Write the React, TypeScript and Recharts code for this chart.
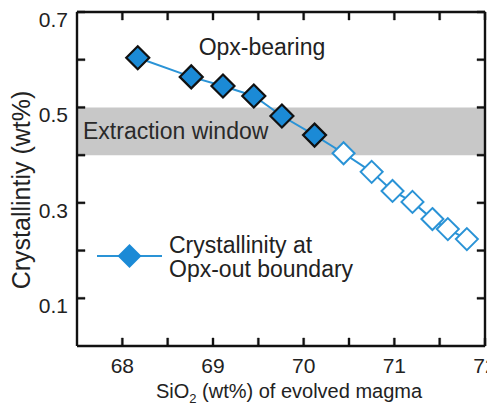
import { LineChart, Line, XAxis, YAxis, ReferenceArea, ReferenceDot, ReferenceLine, Legend } from 'recharts'

const sio2 = [68.17, 68.76, 69.11, 69.45, 69.76, 70.12, 70.44, 70.75, 70.98, 71.2, 71.42, 71.59, 71.8]
const crystallinity = [0.604, 0.564, 0.545, 0.524, 0.482, 0.442, 0.404, 0.365, 0.325, 0.302, 0.266, 0.245, 0.224]
const opxBearing = [true, true, true, true, true, true, false, false, false, false, false, false, false]

const xTicks = [68, 68.5, 69, 69.5, 70, 70.5, 71, 71.5, 72]
const yTicks = [0.1, 0.2, 0.3, 0.4, 0.5, 0.6, 0.7]
const xLabels = [68, 69, 70, 71, 72]
const yLabels = [0.1, 0.3, 0.5, 0.7]

const data = sio2.map((x, i) => ({ x, y: crystallinity[i], opx: opxBearing[i] }))

const FONT = 'Liberation Sans, Arial, sans-serif'
const BLUE = '#1b8ad6'
const LINE_BLUE = '#2a93d6'
const TEXT = '#222'
const INK = '#111'
const TICK = 8

// chart layout
const W = 487
const H = 402
const MARGIN = { top: 4, right: 10, bottom: 0, left: 0 }
const Y_AXIS_W = 69
const X_AXIS_H = 64
const PLOT_W = W - MARGIN.right - Y_AXIS_W
const PLOT_H = H - MARGIN.top - X_AXIS_H

function diamond(cx: number, cy: number, r: number) {
  return `${cx},${cy - r} ${cx + r},${cy} ${cx},${cy + r} ${cx - r},${cy}`
}

// inward stubs on the bottom edge and mirrored on the top edge, labels under the bottom ones
function BottomTick({ x, y, payload }: any) {
  const v = payload.value
  const top = y - PLOT_H
  return (
    <g>
      <polygon points={`${x - 1},${y} ${x + 1},${y} ${x + 1},${y - TICK} ${x - 1},${y - TICK}`} fill={INK} stroke={INK} strokeWidth={0.4} />
      <polygon points={`${x - 1},${top} ${x + 1},${top} ${x + 1},${top + TICK} ${x - 1},${top + TICK}`} fill={INK} stroke={INK} strokeWidth={0.4} />
      {xLabels.includes(v) && (
        <text x={x} y={y + 27} textAnchor="middle" fontSize={21} fontFamily={FONT} fill={TEXT}>{v}</text>
      )}
    </g>
  )
}

function LeftTick({ x, y, payload }: any) {
  const v = payload.value
  const right = x + PLOT_W
  const labelled = yLabels.some(l => Math.abs(l - v) < 1e-6)
  return (
    <g>
      <polygon points={`${x},${y - 1} ${x + TICK},${y - 1} ${x + TICK},${y + 1} ${x},${y + 1}`} fill={INK} stroke={INK} strokeWidth={0.4} />
      <polygon points={`${right},${y - 1} ${right - TICK},${y - 1} ${right - TICK},${y + 1} ${right},${y + 1}`} fill={INK} stroke={INK} strokeWidth={0.4} />
      {labelled && (
        <text x={x - 9} y={y + 15} textAnchor="end" fontSize={21} fontFamily={FONT} fill={TEXT}>{v.toFixed(1)}</text>
      )}
    </g>
  )
}

function Marker({ cx, cy, payload }: any) {
  if (cx == null || cy == null) return null
  return payload.opx
    ? <polygon key={`m${cx}`} points={diamond(cx, cy, 11.5)} fill={BLUE} stroke={INK} strokeWidth={2.2} />
    : <polygon key={`m${cx}`} points={diamond(cx, cy, 11)} fill="#fff" stroke={LINE_BLUE} strokeWidth={2} />
}

// legend box plus the two axis titles, laid over the chart
function Overlay() {
  const yx = 22
  const yy = 182
  return (
    <svg width={W} height={H} style={{ overflow: 'visible' }}>
      <line x1={89} x2={154} y1={248} y2={248} stroke={LINE_BLUE} strokeWidth={2.2} />
      <polygon points={diamond(121.5, 248, 12)} fill={BLUE} />
      <text x={161} y={245} fontSize={23} fontFamily={FONT} fill={TEXT}>Crystallinity at</text>
      <text x={161} y={269} fontSize={23} fontFamily={FONT} fill={TEXT}>Opx-out boundary</text>
      <text x={yx} y={yy} transform={`rotate(-90 ${yx} ${yy})`} textAnchor="middle" fontSize={25} fontFamily={FONT} fill={TEXT}>
        Crystallintiy (wt%)
      </text>
      <text x={281} y={390} textAnchor="middle" fontSize={20} fontFamily={FONT} fill={TEXT}>
        <tspan>SiO</tspan>
        <tspan fontSize={13} dy={5}>2</tspan>
        <tspan dy={-5}> (wt%) of evolved magma</tspan>
      </text>
    </svg>
  )
}

export default function App() {
  return (
    <div style={{ width: W, height: H }}>
      <LineChart width={W} height={H} data={data} margin={MARGIN}>
        <ReferenceArea xAxisId="b" yAxisId="l" x1={67.5} x2={72} y1={0.4} y2={0.5} fill="#c8c8c8" fillOpacity={1} stroke="none" />
        <ReferenceLine xAxisId="b" yAxisId="l" y={0.7} stroke={INK} strokeWidth={2.4} />
        <ReferenceLine xAxisId="b" yAxisId="l" x={72} stroke={INK} strokeWidth={2.4} />
        <XAxis
          xAxisId="b"
          dataKey="x"
          type="number"
          domain={[67.5, 72]}
          ticks={xTicks}
          allowDataOverflow
          height={X_AXIS_H}
          stroke={INK}
          strokeWidth={2.4}
          tickLine={false}
          tickSize={0}
          tickMargin={0}
          tick={<BottomTick />}
          interval={0}
        />
        <YAxis
          yAxisId="l"
          type="number"
          domain={[0, 0.7]}
          ticks={yTicks}
          allowDataOverflow
          width={Y_AXIS_W}
          stroke={INK}
          strokeWidth={2.4}
          tickLine={false}
          tickSize={0}
          tickMargin={0}
          tick={<LeftTick />}
          interval={0}
        />
        <ReferenceDot
          xAxisId="b"
          yAxisId="l"
          x={67.5}
          y={0.45}
          r={0}
          label={{ value: 'Extraction window', position: 'right', offset: 6, fontSize: 23, fontFamily: FONT, fill: '#2a2a2a' }}
        />
        <ReferenceDot
          xAxisId="b"
          yAxisId="l"
          x={69.54}
          y={0.627}
          r={0}
          label={{ value: 'Opx-bearing', position: 'center', fontSize: 23, fontFamily: FONT, fill: TEXT }}
        />
        <Line
          xAxisId="b"
          yAxisId="l"
          dataKey="y"
          type="linear"
          stroke={LINE_BLUE}
          strokeWidth={2}
          dot={<Marker />}
          activeDot={false}
          isAnimationActive={false}
        />
        <Legend
          layout="horizontal"
          verticalAlign="middle"
          align="center"
          wrapperStyle={{ position: 'absolute', left: 0, top: 0, width: W, height: H, pointerEvents: 'none' }}
          content={<Overlay />}
        />
      </LineChart>
    </div>
  )
}
